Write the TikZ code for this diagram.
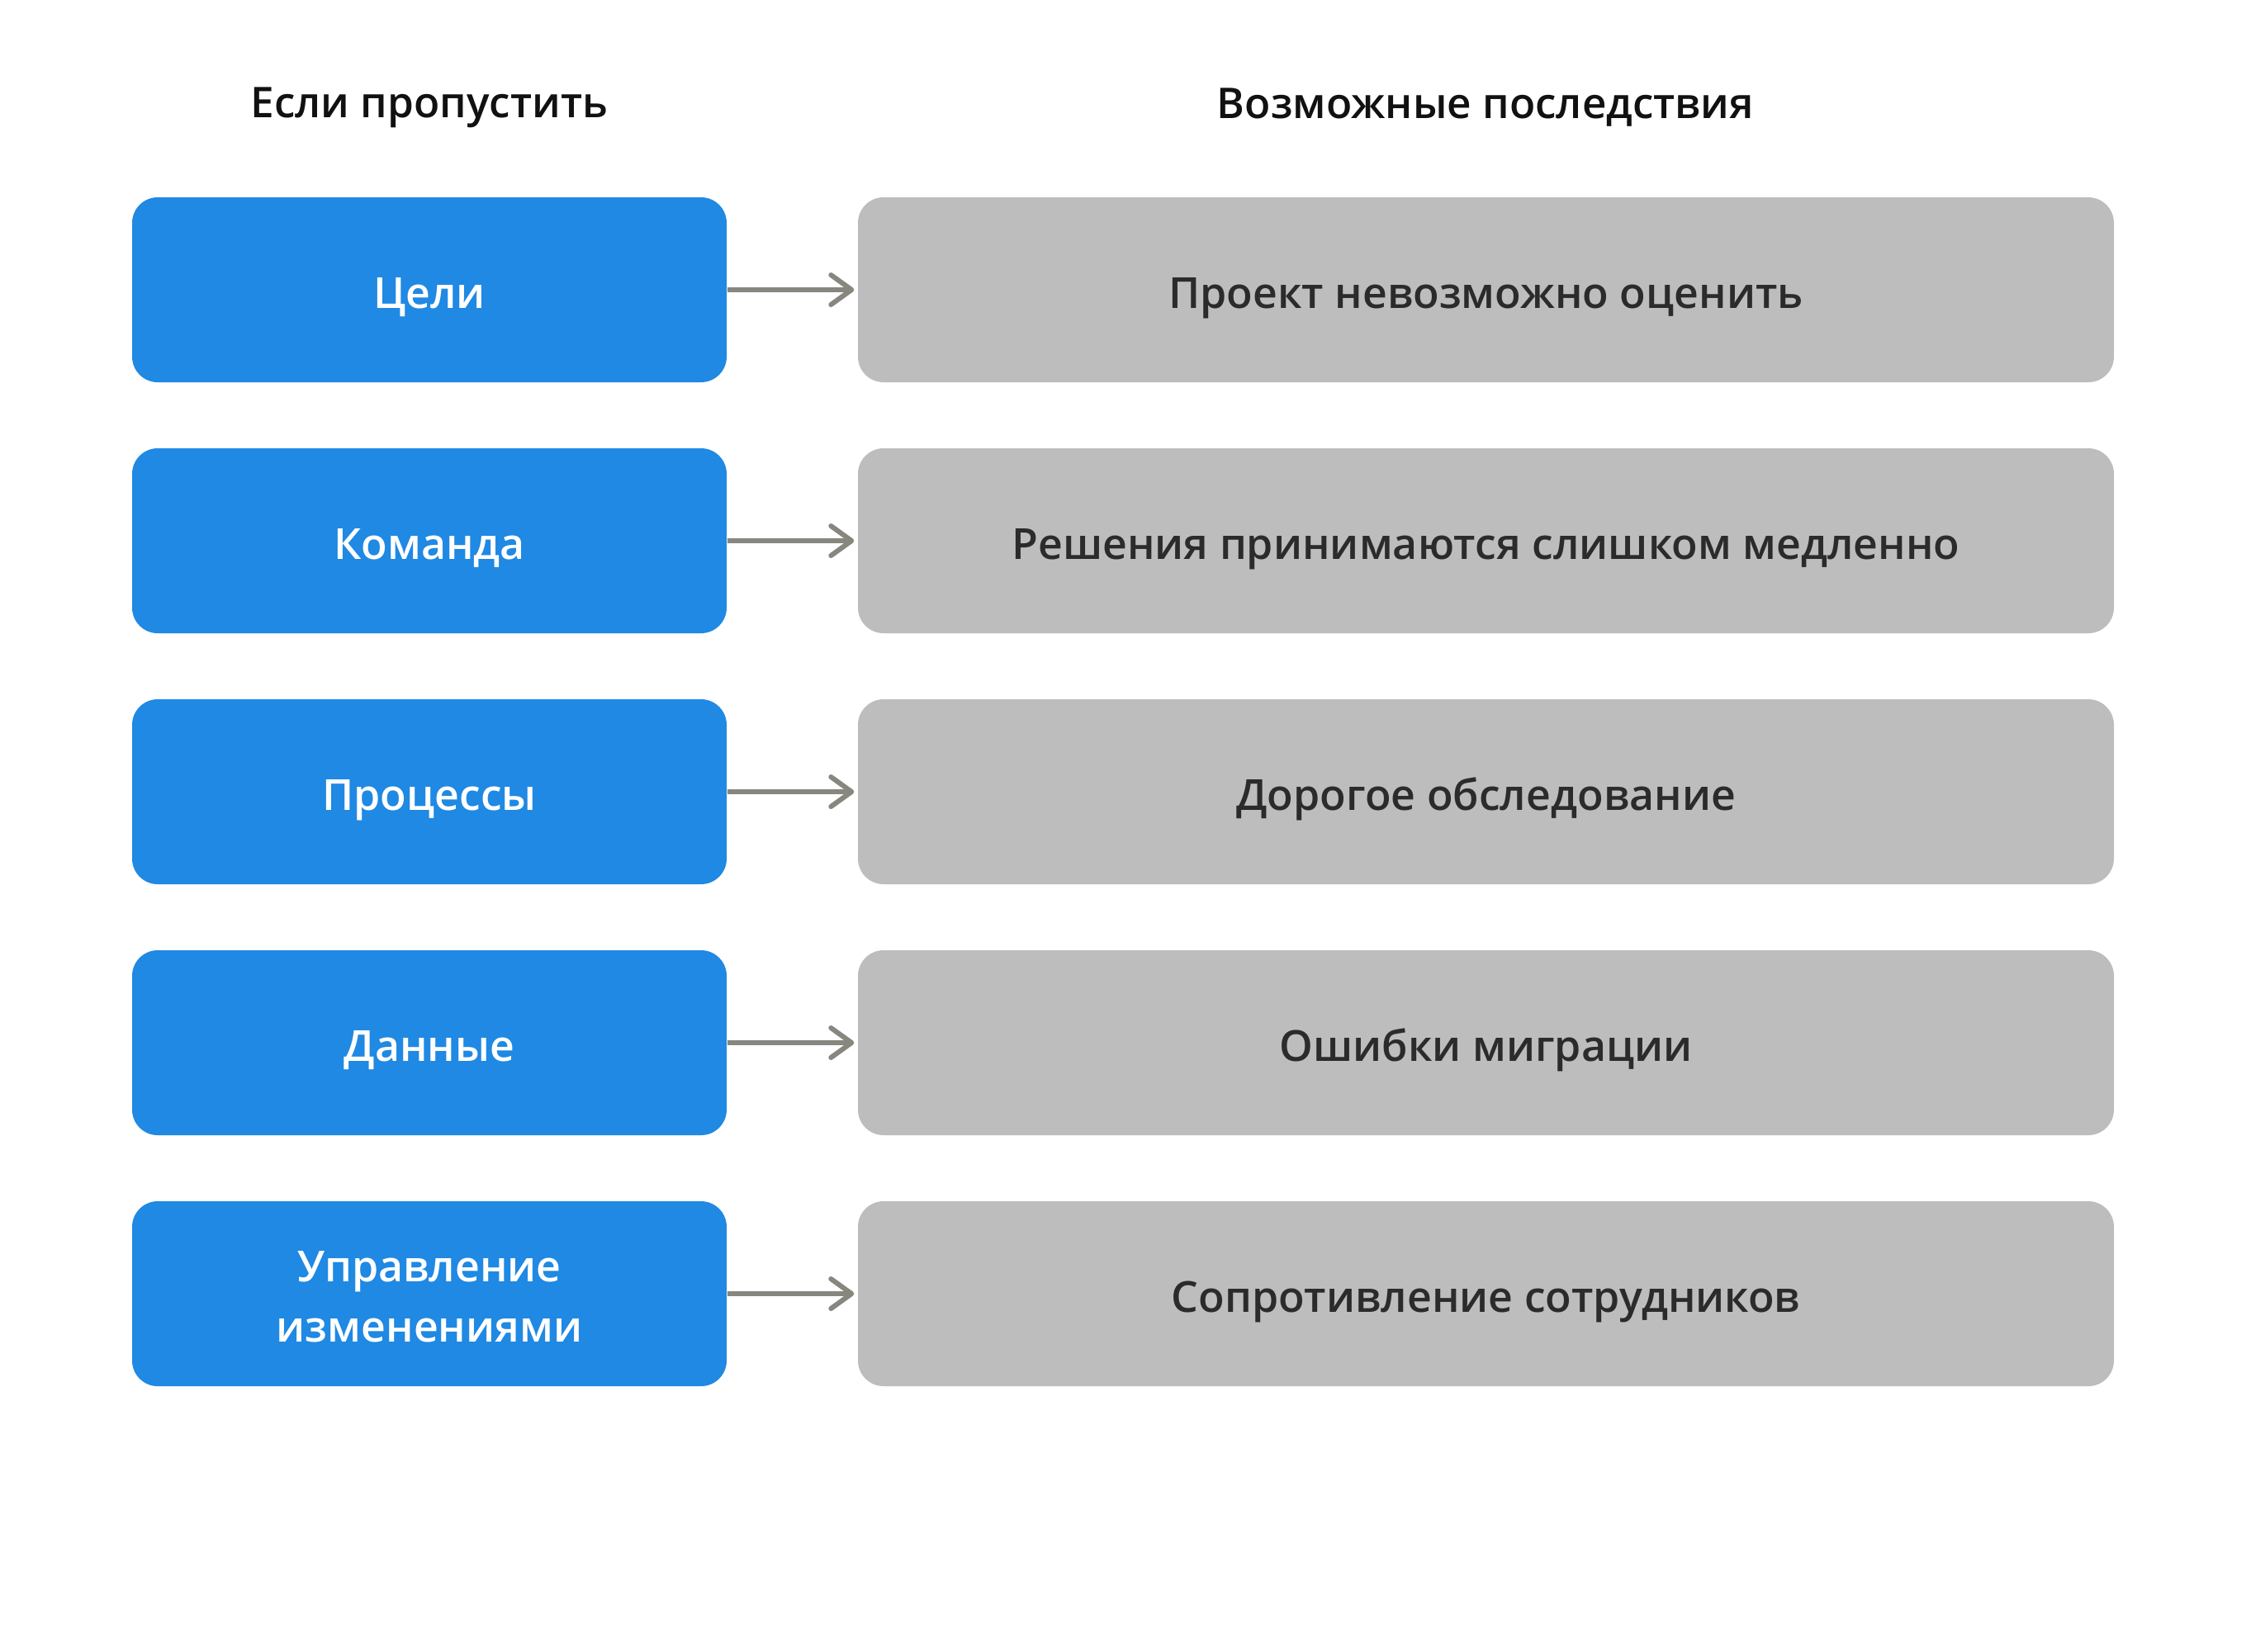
\documentclass[tikz,border=0pt]{standalone}
\usepackage{fontspec}
\setmainfont{Open Sans}[BoldFont={Open Sans Semibold}]
\usepackage{tikz}
\usetikzlibrary{positioning, arrows.meta}
\definecolor{azul}{HTML}{1F89E3}
\definecolor{gris}{HTML}{BDBDBD}
\definecolor{flecha}{HTML}{878780}
\definecolor{oscuro}{HTML}{2B2B2B}
\definecolor{titulo}{HTML}{111111}
\tikzset{
    head/.style={text=titulo, font=\fontsize{14.6}{20}\selectfont\bfseries, inner sep=0pt},
    skip/.style={draw=none, fill=azul, text=white, rounded corners=0.31cm, minimum width=7.2cm, minimum height=2.24cm, align=center, inner sep=0pt, text height=0.44cm, text depth=0pt, font=\fontsize{14.75}{20.7}\selectfont\bfseries},
    cons/.style={draw=none, fill=gris, text=oscuro, rounded corners=0.31cm, minimum width=15.21cm, minimum height=2.24cm, inner sep=0pt, text height=0.44cm, text depth=0pt, font=\fontsize{14.75}{20}\selectfont\bfseries},
    conn/.style={flecha, line width=0.06cm, shorten >=0.04cm, -{Straight Barb[length=0.25cm, width=0.36cm, round]}},
}
\begin{document}
\begin{tikzpicture}
        \useasboundingbox (0,0) rectangle (27.2,-20);

        \node[head] (h1) at (5.2,-1.3) {Если пропустить};
        \node[head] (h2) at (17.99,-1.3) {Возможные последствия};

        \node[skip] (s1) at (5.2,-3.51) {Цели};
        \node[skip] (s2) at (5.2,-6.55) {Команда};
        \node[skip] (s3) at (5.2,-9.59) {Процессы};
        \node[skip] (s4) at (5.2,-12.63) {Данные};
        \node[skip, text height=1.17cm] (s5) at (5.2,-15.67) {Управление\\изменениями};

        \node[cons] (c1) at (17.995,-3.51) {Проект невозможно оценить};
        \node[cons] (c2) at (17.995,-6.55) {Решения принимаются слишком медленно};
        \node[cons] (c3) at (17.995,-9.59) {Дорогое обследование};
        \node[cons] (c4) at (17.995,-12.63) {Ошибки миграции};
        \node[cons] (c5) at (17.995,-15.67) {Сопротивление сотрудников};

        \draw[conn] (s1) -- (c1);
        \draw[conn] (s2) -- (c2);
        \draw[conn] (s3) -- (c3);
        \draw[conn] (s4) -- (c4);
        \draw[conn] (s5) -- (c5);
\end{tikzpicture}
\end{document}
